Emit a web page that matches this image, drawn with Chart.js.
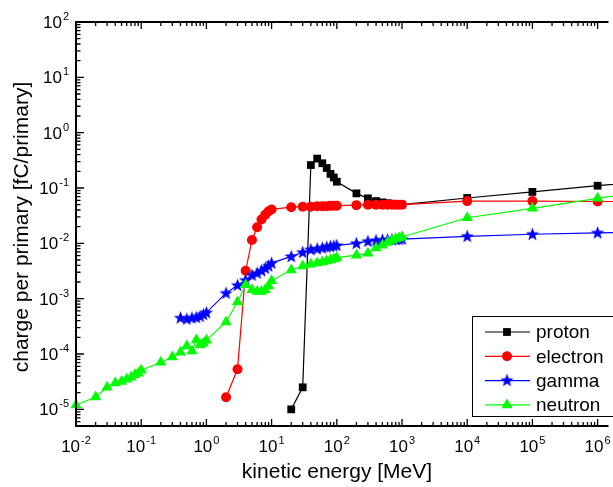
<!DOCTYPE html>
<html>
<head>
<meta charset="utf-8">
<script src="https://cdn.jsdelivr.net/npm/chart.js@4.4.1/dist/chart.umd.min.js"></script>
<style>
html, body { margin: 0; padding: 0; background: #fff; }
canvas { display: block; }
</style>
</head>
<body>
<canvas id="c" width="613" height="487"></canvas>
<script>
const protonE = [20, 30, 40, 50, 60, 70, 80, 90, 100, 200, 300, 400, 500, 600, 700, 800, 900, 1000, 1e4, 1e5, 1e6, 1e7];
const protonQ = [1e-5, 2.5e-5, 0.26, 0.34, 0.28, 0.23, 0.18, 0.155, 0.13, 0.08, 0.065, 0.058, 0.055, 0.053, 0.052, 0.051, 0.05, 0.05, 0.066, 0.085, 0.11, 0.14];

const electronE = [2, 3, 4, 5, 6, 7, 8, 9, 10, 20, 30, 40, 50, 60, 70, 80, 90, 100, 200, 300, 400, 500, 600, 700, 800, 900, 1000, 1e4, 1e5, 1e6, 1e7];
const electronQ = [1.66e-5, 5.3e-5, 3.2e-3, 0.0115, 0.0195, 0.027, 0.033, 0.038, 0.041, 0.045, 0.046, 0.046, 0.047, 0.047, 0.047, 0.048, 0.048, 0.048, 0.049, 0.05, 0.05, 0.05, 0.05, 0.05, 0.05, 0.05, 0.05, 0.058, 0.058, 0.057, 0.057];

const gammaE = [0.4, 0.5, 0.6, 0.7, 0.8, 0.9, 1, 2, 3, 4, 5, 6, 7, 8, 9, 10, 20, 30, 40, 50, 60, 70, 80, 90, 100, 200, 300, 400, 500, 600, 700, 800, 900, 1000, 1e4, 1e5, 1e6, 1e7];
const gammaQ = [4.5e-4, 4.3e-4, 4.5e-4, 4.6e-4, 4.8e-4, 5.2e-4, 5.6e-4, 1.26e-3, 1.75e-3, 2.16e-3, 2.66e-3, 2.9e-3, 3.2e-3, 3.55e-3, 3.9e-3, 4.4e-3, 5.8e-3, 6.9e-3, 7.7e-3, 8.0e-3, 8.3e-3, 8.6e-3, 8.8e-3, 9.0e-3, 9.2e-3, 1.0e-2, 1.09e-2, 1.13e-2, 1.15e-2, 1.16e-2, 1.17e-2, 1.18e-2, 1.18e-2, 1.19e-2, 1.34e-2, 1.46e-2, 1.55e-2, 1.6e-2];

const neutronE = [0.01, 0.02, 0.03, 0.04, 0.05, 0.06, 0.07, 0.08, 0.09, 0.1, 0.2, 0.3, 0.4, 0.5, 0.6, 0.7, 0.8, 0.9, 1, 2, 3, 4, 5, 6, 7, 8, 9, 10, 20, 30, 40, 50, 60, 70, 80, 90, 100, 200, 300, 400, 500, 600, 700, 800, 900, 1000, 1e4, 1e5, 1e6, 1e7];
const neutronQ = [1.2e-5, 1.67e-5, 2.5e-5, 3.0e-5, 3.2e-5, 3.5e-5, 3.8e-5, 4.2e-5, 4.5e-5, 5.1e-5, 7.1e-5, 8.8e-5, 1.08e-4, 1.4e-4, 1.13e-4, 1.8e-4, 1.45e-4, 1.57e-4, 1.78e-4, 3.8e-4, 8.7e-4, 1.78e-3, 1.45e-3, 1.35e-3, 1.35e-3, 1.45e-3, 1.7e-3, 2.1e-3, 3.3e-3, 3.9e-3, 4.2e-3, 4.4e-3, 4.6e-3, 4.8e-3, 5.0e-3, 5.2e-3, 5.5e-3, 6.1e-3, 6.6e-3, 8.2e-3, 9.2e-3, 1.05e-2, 1.13e-2, 1.2e-2, 1.25e-2, 1.3e-2, 2.9e-2, 4.3e-2, 6.5e-2, 0.095];

const xTickExp = [-2, -1, 0, 1, 2, 3, 4, 5, 6];
const yTickExp = [-5, -4, -3, -2, -1, 0, 1, 2];

const FONT = '"Liberation Sans", Arial, sans-serif';

function starImage(color) {
    const c = document.createElement("canvas");
    c.width = 15; c.height = 15;
    const g = c.getContext("2d");
    g.fillStyle = color;
    g.beginPath();
    for (let i = 0; i < 10; i++) {
        const r = i % 2 ? 2.9 : 7;
        const a = -Math.PI / 2 + i * Math.PI / 5;
        g.lineTo(7.5 + r * Math.cos(a), 7.8 + r * Math.sin(a));
    }
    g.closePath();
    g.fill();
    return c;
}

function pts(xs, ys) {
    return xs.map((x, i) => ({ x: x, y: ys[i] }));
}

function series(label, xs, ys, color, style, radius, order) {
    return {
        label: label, data: pts(xs, ys), showLine: true,
        borderColor: color, backgroundColor: color, borderWidth: 1.2,
        pointStyle: style, pointRadius: radius, pointHoverRadius: radius,
        pointBorderWidth: 0, pointBackgroundColor: color,
        clip: false, order: order
    };
}

const star = starImage("#0000ff");
const datasets = [
    series("proton", protonE, protonQ, "#000000", "rect", 5.5, 3),
    series("electron", electronE, electronQ, "#ff0000", "circle", 5, 2),
    series("gamma", gammaE, gammaQ, "#0000ff", star, 6, 1),
    series("neutron", neutronE, neutronQ, "#00ff00", "triangle", 6.5, 0)
];

function drawPow(ctx, exp, x, y, align) {
    ctx.font = "17px " + FONT;
    const wb = ctx.measureText("10").width;
    ctx.font = "11px " + FONT;
    const ws = ctx.measureText(String(exp)).width;
    const left = align === "center" ? x - (wb + ws + 1) / 2 : x - (wb + ws + 1);
    ctx.textAlign = "left";
    ctx.textBaseline = "alphabetic";
    ctx.font = "17px " + FONT;
    ctx.fillText("10", left, y);
    ctx.font = "11px " + FONT;
    ctx.fillText(String(exp), left + wb + 1, y - 8);
}

const frame = {
    id: "frame",
    afterDatasetsDraw(chart) {
        const ctx = chart.ctx, a = chart.chartArea, xs = chart.scales.x, ys = chart.scales.y;
        ctx.save();
        ctx.fillStyle = "#000";
        ctx.strokeStyle = "#000";
        ctx.lineWidth = 2;
        ctx.beginPath();
        ctx.moveTo(a.left - 1, a.top); ctx.lineTo(a.right + 2, a.top);
        ctx.moveTo(a.left, a.top); ctx.lineTo(a.left, a.bottom);
        ctx.moveTo(a.left - 1, a.bottom); ctx.lineTo(a.right + 2, a.bottom);
        ctx.stroke();

        ctx.lineWidth = 1.3;
        ctx.beginPath();
        xTickExp.forEach(e => {
            for (let m = 1; m <= 9; m++) {
                const px = xs.getPixelForValue(m * Math.pow(10, e));
                if (px > a.right) continue;
                const len = m === 1 ? 7 : 4;
                ctx.moveTo(px, a.bottom); ctx.lineTo(px, a.bottom - len);
                ctx.moveTo(px, a.top); ctx.lineTo(px, a.top + len);
            }
        });
        yTickExp.forEach(e => {
            for (let m = 1; m <= 9; m++) {
                const v = m * Math.pow(10, e);
                if (v > 100 || v < 5e-6) continue;
                const py = ys.getPixelForValue(v);
                const len = m === 1 ? 8 : 4.5;
                ctx.moveTo(a.left, py); ctx.lineTo(a.left + len, py);
            }
        });
        for (let m = 5; m <= 9; m++) {
            const py = ys.getPixelForValue(m * 1e-6);
            ctx.moveTo(a.left, py); ctx.lineTo(a.left + 4.5, py);
        }
        ctx.stroke();

        xTickExp.forEach(e => drawPow(ctx, e, xs.getPixelForValue(Math.pow(10, e)), 452, "center"));
        yTickExp.forEach(e => drawPow(ctx, e, 69, ys.getPixelForValue(Math.pow(10, e)) + 6, "right"));

        ctx.font = "21px " + FONT;
        ctx.textAlign = "center";
        ctx.textBaseline = "middle";
        ctx.fillText("kinetic energy [MeV]", 337, 472);
        ctx.save();
        ctx.translate(22, 227);
        ctx.rotate(-Math.PI / 2);
        ctx.fillText("charge per primary [fC/primary]", 0, 0);
        ctx.restore();

        // legend box
        ctx.fillStyle = "#fff";
        ctx.fillRect(472, 316, 145, 100);
        ctx.lineWidth = 1;
        ctx.strokeStyle = "#000";
        ctx.strokeRect(472.5, 316.5, 145, 100);
        datasets.forEach((d, i) => {
            const cy = 332 + i * 24.3;
            ctx.strokeStyle = d.borderColor;
            ctx.lineWidth = 1.2;
            ctx.beginPath();
            ctx.moveTo(485, cy); ctx.lineTo(530, cy);
            ctx.stroke();
            ctx.fillStyle = d.borderColor;
            if (d.pointStyle === "rect") ctx.fillRect(507 - 3.9, cy - 3.9, 7.8, 7.8);
            else if (d.pointStyle === "circle") { ctx.beginPath(); ctx.arc(507, cy, 5, 0, 2 * Math.PI); ctx.fill(); }
            else if (d.pointStyle === "triangle") {
                ctx.beginPath();
                for (let k = 0; k < 3; k++) {
                    const ang = k * 2 * Math.PI / 3;
                    ctx.lineTo(507 + Math.sin(ang) * 6.5, cy - Math.cos(ang) * 6.5);
                }
                ctx.closePath(); ctx.fill();
            } else ctx.drawImage(d.pointStyle, 507 - 7.5, cy - 7.8);
            ctx.fillStyle = "#000";
            ctx.font = "19px " + FONT;
            ctx.textAlign = "left";
            ctx.textBaseline = "middle";
            ctx.fillText(d.label, 536, cy + 1);
        });
        ctx.restore();
    }
};

new Chart(document.getElementById("c"), {
    type: "scatter",
    data: { datasets: datasets },
    options: {
        responsive: false,
        animation: false,
        events: [],
        layout: { padding: { top: 22, left: 0, right: 0, bottom: 0 } },
        plugins: { legend: { display: false }, tooltip: { enabled: false } },
        scales: {
            x: {
                type: "logarithmic", min: 0.01, max: Math.pow(10, 6 + 9 / 66),
                ticks: { display: false }, grid: { display: false }, border: { display: false },
                afterFit: s => { s.height = 61; }
            },
            y: {
                type: "logarithmic", min: 5e-6, max: 100,
                ticks: { display: false }, grid: { display: false }, border: { display: false },
                afterFit: s => { s.width = 76; }
            }
        }
    },
    plugins: [frame]
});
</script>
</body>
</html>
